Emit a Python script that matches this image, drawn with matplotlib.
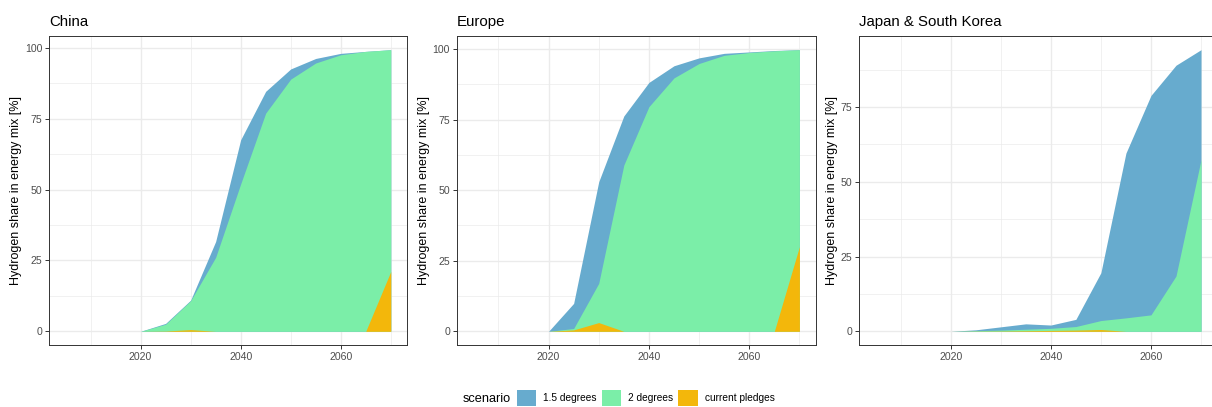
import matplotlib
matplotlib.use('Agg')
import matplotlib.pyplot as plt
from matplotlib.patches import Patch
from matplotlib.ticker import MultipleLocator

plt.rcParams['font.family'] = ['Liberation Sans', 'DejaVu Sans']

# Data
years = [2005, 2010, 2015, 2020, 2025, 2030, 2035, 2040, 2045, 2050, 2055, 2060, 2065, 2070]
regions = ['China', 'Europe', 'Japan & South Korea']
scenarios = ['1.5 degrees', '2 degrees', 'current pledges']

china_15 = [0, 0, 0, 0, 2.8, 11, 31.7, 67.6, 84.7, 92.6, 96.3, 98.1, 98.8, 99.4]
china_2 = [0, 0, 0, 0, 2.5, 10.8, 26.1, 52, 77, 89, 94.7, 97.6, 98.8, 99.4]
china_cp = [0, 0, 0, 0, 0.1, 0.6, 0, 0, 0, 0, 0, 0, 0, 21.1]

europe_15 = [0, 0, 0, 0, 9.9, 53, 76.3, 88.2, 94.1, 96.9, 98.5, 99.0, 99.5, 99.8]
europe_2 = [0, 0, 0, 0, 1.0, 17, 58.9, 79.6, 89.8, 94.9, 97.8, 98.8, 99.4, 99.8]
europe_cp = [0, 0, 0, 0, 0.5, 3.1, 0, 0, 0, 0, 0, 0, 0, 30]

japan_15 = [0, 0, 0, 0, 0.5, 1.5, 2.5, 2.1, 4.0, 19.6, 59.6, 78.9, 89, 94.2]
japan_2 = [0, 0, 0, 0, 0.2, 0.4, 0.7, 1.0, 1.6, 3.6, 4.5, 5.5, 18.5, 57.4]
japan_cp = [0, 0, 0, 0, 0.05, 0.1, 0.2, 0.3, 0.4, 0.6, 0, 0, 0, 0]

series = {
    'China': [china_15, china_2, china_cp],
    'Europe': [europe_15, europe_2, europe_cp],
    'Japan & South Korea': [japan_15, japan_2, japan_cp],
}

colors = ['#67ABCE', '#7BEEA8', '#F3B70B']

W, H = 1212, 407
fig = plt.figure(figsize=(W / 100, H / 100), dpi=100)

# panel boxes in pixels: left, top, width, height
boxes = [(49.3, 35.6, 357.7, 309.8),
         (457.0, 35.6, 358.7, 309.8),
         (859.3, 35.6, 358.0, 309.8)]

for region, (l, t, w, h) in zip(regions, boxes):
    ax = fig.add_axes([l / W, (H - t - h) / H, w / W, h / H])
    vals = series[region]
    for v, c in zip(vals, colors):
        ax.fill_between(years, 0, v, color=c, linewidth=0, zorder=2)

    span = years[-1] - years[0]
    ax.set_xlim(years[0] - 0.05 * span, years[-1] + 0.05 * span)
    top = max(max(v) for v in vals)
    ax.set_ylim(-0.05 * top, top * 1.05)

    ax.xaxis.set_major_locator(MultipleLocator(20))
    ax.xaxis.set_minor_locator(MultipleLocator(10))
    ax.yaxis.set_major_locator(MultipleLocator(25))
    ax.yaxis.set_minor_locator(MultipleLocator(12.5))
    ax.grid(which='major', color='#EBEBEB', linewidth=1.0, zorder=0)
    ax.grid(which='minor', color='#EBEBEB', linewidth=0.5, zorder=0)
    ax.set_axisbelow(True)

    ax.tick_params(which='major', length=3, width=0.7, color='#333333',
                   labelsize=7.6, labelcolor='#4D4D4D', pad=2)
    ax.tick_params(which='minor', length=0)
    for s in ax.spines.values():
        s.set_color('#333333')
        s.set_linewidth(0.7)

    ax.set_ylabel('Hydrogen share in energy mix [%]', fontsize=9.0, color='black', labelpad=2)
    ax.set_title(region, loc='left', fontsize=10.8, pad=7)

# legend at the bottom
fig.text(463 / W, 1 - 399 / H, 'scenario', fontsize=9.2, va='center', ha='left')
handles = [Patch(facecolor=c, edgecolor='none', label=s) for c, s in zip(colors, scenarios)]
fig.legend(handles=handles, loc='center left', bbox_to_anchor=(517 / W, 1 - 398 / H),
           ncol=3, frameon=False, fontsize=7.3, handlelength=1.9, handleheight=2.0,
           handletextpad=0.7, columnspacing=0.5, borderpad=0, borderaxespad=0)

fig.savefig('out.png', dpi=100)
